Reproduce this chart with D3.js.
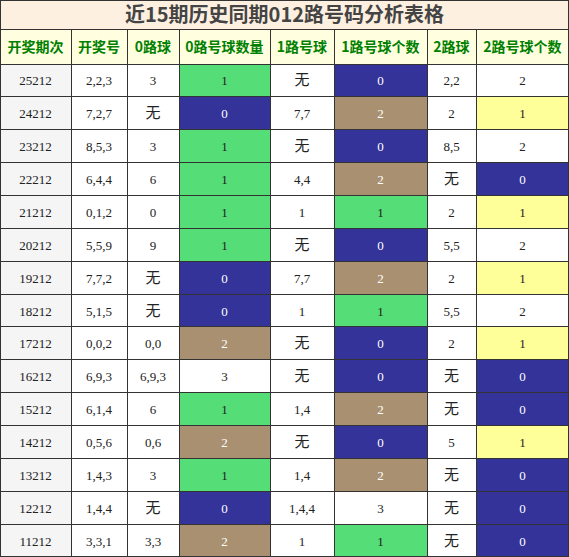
<!DOCTYPE html><html><head><meta charset="utf-8"><script src="https://d3js.org/d3.v7.min.js"></script>
<style>body{margin:0;background:#fff}</style></head><body><svg id="c" width="569" height="557"></svg>
<script>
const title="近15期历史同期012路号码分析表格";
const headers=["开奖期次","开奖号","0路球","0路号球数量","1路号球","1路号球个数","2路球","2路号球个数"];
const periods=["25212","24212","23212","22212","21212","20212","19212","18212","17212","16212","15212","14212","13212","12212","11212"];
const draws=["2,2,3","7,2,7","8,5,3","6,4,4","0,1,2","5,5,9","7,7,2","5,1,5","0,0,2","6,9,3","6,1,4","0,5,6","1,4,3","1,4,4","3,3,1"];
const r0=["3","无","3","6","0","9","无","无","0,0","6,9,3","6","0,6","3","无","3,3"];
const c0=[1,0,1,1,1,1,0,0,2,3,1,2,1,0,2];
const r1=["无","7,7","无","4,4","1","无","7,7","1","无","无","1,4","无","1,4","1,4,4","1"];
const c1=[0,2,0,2,1,0,2,1,0,0,2,0,2,3,1];
const r2=["2,2","2","8,5","无","2","5,5","2","5,5","2","无","无","5","无","无","无"];
const c2=[2,1,2,0,1,2,1,2,1,0,0,1,0,0,0];
const colX=[0,71,127,179,270,334,427,476,569];
const svg=d3.select("#c");
const y=d3.scaleBand().domain(d3.range(15)).range([64,557]);
const cntColor={0:"#333399",1:"#55dd77",2:"#a89070",3:"#ffffff"};
const cnt2Color={0:"#333399",1:"#ffff99",2:"#ffffff"};
const txtCol=c=>(c==="#333399"||c==="#a89070")?"#ffffff":"#222";
const font="'Liberation Serif','DejaVu Serif',serif";
// title
svg.append("rect").attr("x",0).attr("y",0).attr("width",569).attr("height",29).attr("fill","#fdf0e0");
svg.append("text").attr("x",284.5).attr("y",22).attr("text-anchor","middle").attr("font-size",20).attr("font-weight","bold").attr("fill","#444").attr("font-family","'Noto Sans CJK SC',"+font).text(title);
headers.forEach((h,i)=>{
 svg.append("rect").attr("x",colX[i]).attr("y",29).attr("width",colX[i+1]-colX[i]).attr("height",35).attr("fill","#ffffe0");
 svg.append("text").attr("x",(colX[i]+colX[i+1])/2).attr("y",52).attr("text-anchor","middle").attr("font-size",14).attr("font-weight","bold").attr("fill","#008000").attr("font-family","'Noto Sans CJK SC',"+font).text(h);
});
periods.forEach((p,r)=>{
 const vals=[p,draws[r],r0[r],String(c0[r]),r1[r],String(c1[r]),r2[r],String(c2[r])];
 const fills=["#f5f5f5","#fff","#fff",cntColor[c0[r]],"#fff",cntColor[c1[r]],"#fff",cnt2Color[c2[r]]];
 vals.forEach((v,i)=>{
  svg.append("rect").attr("x",colX[i]).attr("y",y(r)).attr("width",colX[i+1]-colX[i]).attr("height",y.bandwidth()).attr("fill",fills[i]);
  svg.append("text").attr("x",(colX[i]+colX[i+1])/2).attr("y",y(r)+y.bandwidth()/2+5).attr("text-anchor","middle")
   .attr("font-size",v==="无"?15:13).attr("fill",txtCol(fills[i])).attr("font-family",v==="无"?"'Noto Sans CJK SC'":font).text(v);
 });
});
// grid
const g=svg.append("g").attr("stroke","#333").attr("stroke-width",1).attr("shape-rendering","crispEdges");
[0.5,29,64].concat(d3.range(1,16).map(r=>y(r-1)+y.bandwidth())).forEach(yy=>g.append("line").attr("x1",0).attr("x2",569).attr("y1",Math.min(yy,556.5)).attr("y2",Math.min(yy,556.5)));
colX.forEach((x,i)=>{const xx=Math.min(Math.max(x,0.5),568.5);g.append("line").attr("x1",xx).attr("x2",xx).attr("y1",(i===0||i===8)?0:29).attr("y2",557);});
</script></body></html>
